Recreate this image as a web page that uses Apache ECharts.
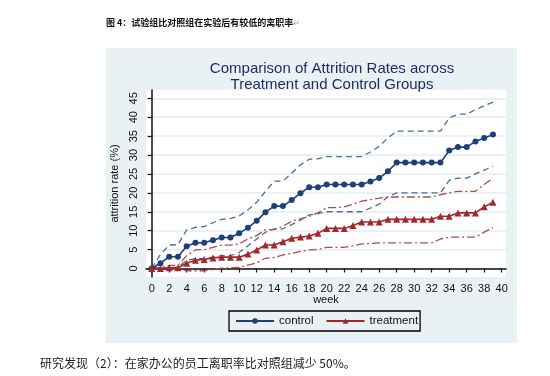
<!DOCTYPE html>
<html>
<head>
<meta charset="utf-8">
<script src="https://cdn.jsdelivr.net/npm/echarts@6/dist/echarts.min.js"></script>
<style>
  html, body { margin: 0; padding: 0; background: #fff; }
  #chart { width: 550px; height: 376px; }
</style>
</head>
<body>
<div id="chart"></div>
<script>
// 周次（0–39）及各组离职率（%）
const weeks = [0, 1, 2, 3, 4, 5, 6, 7, 8, 9, 10, 11, 12, 13, 14, 15, 16, 17, 18, 19,
  20, 21, 22, 23, 24, 25, 26, 27, 28, 29, 30, 31, 32, 33, 34, 35, 36, 37, 38, 39];

const control = [0, 1.4, 3.1, 3.1, 5.9, 6.8, 6.8, 7.5, 8.2, 8.2, 9.3, 10.8, 12.6, 14.9, 16.5, 16.5,
  18.1, 19.9, 21.5, 21.5, 22.2, 22.2, 22.2, 22.2, 22.2, 23.0, 23.9, 25.7, 28.0, 28.0, 28.0, 28.0,
  28.0, 28.0, 31.2, 32.1, 32.1, 33.6, 34.5, 35.4];
const controlUpper = [0, 3.7, 6.2, 6.3, 10.2, 10.9, 11.1, 12.1, 13.0, 13.2, 13.9, 15.5, 17.5, 20.4,
  23.1, 23.1, 25.2, 27.4, 28.9, 29.0, 29.6, 29.6, 29.6, 29.6, 29.6, 30.8, 32.3, 34.5, 36.3, 36.3,
  36.3, 36.3, 36.3, 36.3, 39.8, 40.8, 40.8, 42.0, 43.0, 44.0];
const controlLower = [0, 0, 0.3, 0.3, 2.2, 2.6, 2.6, 3.0, 3.4, 3.4, 4.2, 6.0, 7.8, 9.6, 10.5, 10.5,
  11.6, 12.8, 14.2, 14.5, 15.0, 15.0, 15.0, 15.0, 15.0, 16.0, 17.0, 19.0, 20.0, 20.0, 20.0, 20.0,
  20.0, 20.0, 23.3, 23.9, 23.9, 25.0, 26.0, 27.0];

const treatment = [0, 0, 0.2, 0.2, 1.4, 2.2, 2.4, 2.8, 3.0, 3.0, 3.0, 3.8, 4.9, 6.2, 6.2, 7.1,
  8.0, 8.3, 8.6, 9.3, 10.6, 10.6, 10.6, 11.4, 12.3, 12.3, 12.3, 13.0, 13.0, 13.0, 13.0, 13.0,
  13.0, 13.8, 13.8, 14.7, 14.7, 14.7, 16.3, 17.5];
const treatmentUpper = [0, 0.3, 0.8, 0.8, 3.4, 4.9, 5.0, 5.6, 6.2, 6.2, 6.5, 7.8, 8.7, 10.3, 10.3,
  11.2, 12.5, 13.1, 13.8, 14.7, 16.1, 16.1, 16.3, 17.0, 17.8, 18.2, 18.6, 18.9, 18.9, 18.9, 18.9,
  18.9, 18.9, 19.5, 20.0, 20.4, 20.4, 20.4, 22.2, 23.9];
const treatmentLower = [0, 0, -0.2, -0.2, -0.6, -0.6, -0.6, -0.3, 0.1, 0.2, 0.3, 0.9, 1.5, 2.7, 2.9,
  3.6, 4.0, 4.5, 4.9, 5.0, 5.6, 5.6, 5.6, 6.0, 6.5, 6.6, 6.8, 6.8, 6.8, 6.8, 6.8, 6.8, 6.8, 7.8,
  8.3, 8.3, 8.3, 8.3, 9.6, 10.8];

const xTicks = [0, 2, 4, 6, 8, 10, 12, 14, 16, 18, 20, 22, 24, 26, 28, 30, 32, 34, 36, 38, 40];
const yTicks = [0, 5, 10, 15, 20, 25, 30, 35, 40, 45];

const BLUE = '#1d3f7c';
const BLUE_CI = '#4a6ba3';
const RED = '#a3282c';
const RED_CI = '#b2494c';

const pairs = (vals) => weeks.map((w, i) => [w, vals[i]]);

const ciLine = (name, vals, color, dash) => ({
  name,
  type: 'line',
  data: pairs(vals),
  symbol: 'none',
  silent: true,
  lineStyle: { color, width: 1.3, type: dash },
  z: 1,
});

const chart = echarts.init(document.getElementById('chart'), null, { renderer: 'canvas' });

chart.setOption({
  animation: false,
  backgroundColor: '#fff',
  textStyle: { fontFamily: 'Liberation Sans, Arial, sans-serif' },
  graphic: [{
    type: 'rect',
    shape: { x: 106, y: 48, width: 411, height: 295 },
    style: { fill: '#e9f1f4' },
    z: -10,
    silent: true,
  }],
  title: [
    {
      text: '图 4：试验组比对照组在实验后有较低的离职率{r|↵}',
      left: 101, top: 13,
      textStyle: {
        fontFamily: 'Noto Sans CJK SC', fontSize: 9, fontWeight: 'bold', color: '#111',
        rich: { r: { fontSize: 8, color: '#999', fontWeight: 'normal' } },
      },
    },
    {
      text: 'Comparison of Attrition Rates across\nTreatment and Control Groups',
      left: 327, top: 56, textAlign: 'center',
      textStyle: { fontFamily: 'Liberation Sans', fontSize: 15, fontWeight: 'normal', color: '#1c2a5e', lineHeight: 16 },
    },
    {
      text: '研究发现（2）：在家办公的员工离职率比对照组减少 50%。',
      left: 35, top: 352,
      textStyle: { fontFamily: 'Noto Sans CJK SC', fontSize: 12, fontWeight: 'normal', color: '#222' },
    },
  ],
  grid: {
    left: 146, right: 44, top: 90, bottom: 99,
    show: true, backgroundColor: '#fff', borderWidth: 0,
  },
  legend: {
    data: ['control', 'treatment'],
    left: 229, top: 311,
    padding: [4, 2, 4, 6],
    itemGap: 12,
    itemWidth: 38, itemHeight: 7,
    borderColor: '#000', borderWidth: 1.3,
    textStyle: { fontSize: 11.5, color: '#111' },
  },
  xAxis: {
    type: 'value',
    min: -0.65, max: 40.49,
    name: 'week', nameLocation: 'middle', nameGap: 17,
    nameTextStyle: { fontSize: 11, color: '#111' },
    axisLine: { lineStyle: { color: '#111', width: 1.5 } },
    axisTick: { customValues: xTicks, length: 4, lineStyle: { color: '#111', width: 1.2 } },
    axisLabel: { customValues: xTicks, fontSize: 11, color: '#111', margin: 6 },
    splitLine: { show: false },
  },
  yAxis: {
    type: 'value',
    min: -2.25, max: 47.2,
    name: 'attrition rate (%)', nameLocation: 'middle', nameGap: 22,
    nameTextStyle: { fontSize: 11, color: '#111' },
    axisLine: { show: true, lineStyle: { color: '#111', width: 1.5 } },
    axisTick: { show: true, customValues: yTicks, length: 4, lineStyle: { color: '#111', width: 1.2 } },
    axisLabel: { customValues: yTicks, rotate: 90, fontSize: 11, color: '#111', margin: 7 },
    splitLine: { show: true, lineStyle: { color: '#e2ecf1', width: 1.5 } },
  },
  series: [
    ciLine('control upper', controlUpper, BLUE_CI, [6, 4]),
    ciLine('control lower', controlLower, BLUE_CI, [6, 4]),
    ciLine('treatment upper', treatmentUpper, RED_CI, [8, 3, 2, 3]),
    ciLine('treatment lower', treatmentLower, RED_CI, [8, 3, 2, 3]),
    {
      name: 'control',
      type: 'line',
      data: pairs(control),
      symbol: 'circle',
      symbolSize: 6,
      lineStyle: { color: BLUE, width: 1.6 },
      itemStyle: { color: BLUE },
      z: 3,
    },
    {
      name: 'treatment',
      type: 'line',
      data: pairs(treatment),
      symbol: 'triangle',
      symbolSize: 7,
      lineStyle: { color: RED, width: 1.6 },
      itemStyle: { color: RED },
      z: 3,
    },
  ],
});
</script>
</body>
</html>
